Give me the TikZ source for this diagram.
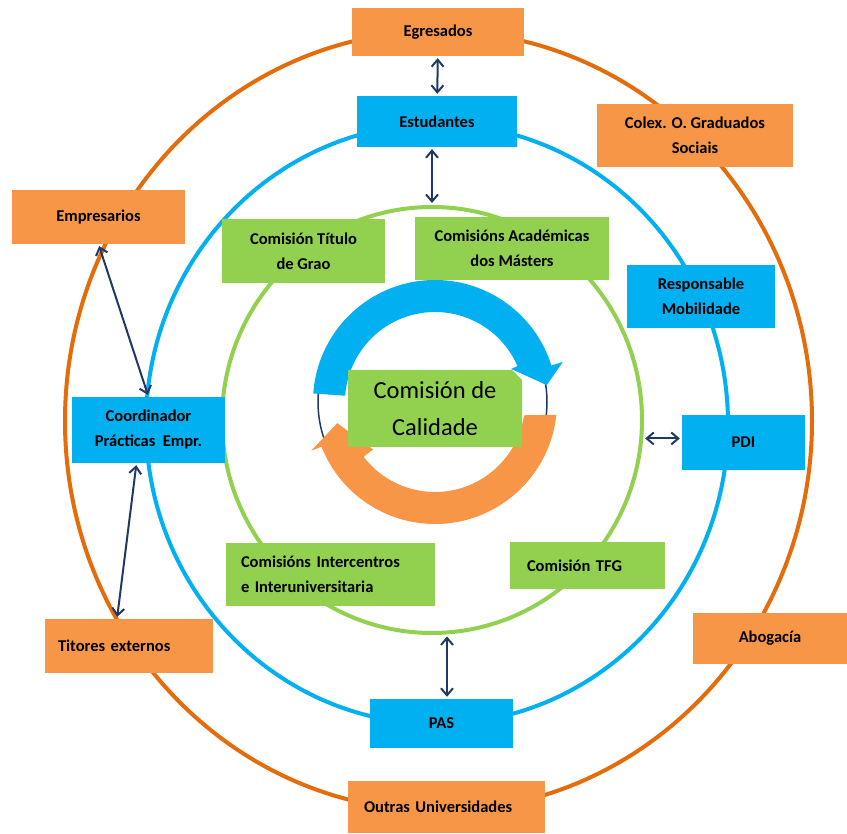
\documentclass[tikz,border=0pt]{standalone}
\usepackage{fontspec}
\setmainfont{Carlito}
\usepackage{xcolor}
\usepackage{tikz}
\usetikzlibrary{arrows.meta}
\usetikzlibrary{shapes,positioning}
\definecolor{boxorange}{HTML}{F79646}
\definecolor{lineorange}{HTML}{E46C0A}
\definecolor{boxblue}{HTML}{00B0F0}
\definecolor{boxgreen}{HTML}{92D050}
\definecolor{linknavy}{HTML}{1F3864}
\tikzset{>={Straight Barb[length=7pt,width=12pt]}}
\tikzset{
  box/.style={inner sep=0pt, align=center, font=\fontsize{16.5}{25}\selectfont\bfseries},
  orangebox/.style={box, fill=boxorange},
  bluebox/.style={box, fill=boxblue},
  greenbox/.style={box, fill=boxgreen},
  ring/.style={ellipse, line width=4pt, inner sep=0pt},
  link/.style={<->, line width=2pt, draw=linknavy, shorten <=2pt, shorten >=2pt}
}

\begin{document}
\begin{tikzpicture}[x=1pt, y=1pt]
            \useasboundingbox (0,0) rectangle (847,834);
            \node[ring, draw=lineorange, minimum width=747pt, minimum height=780pt] (ring-outer) at (438.5,413) {};
            \node[ring, draw=boxblue, minimum width=582pt, minimum height=600pt] (ring-mid) at (437,410) {};
            \node[ring, draw=boxgreen, minimum width=420pt, minimum height=426pt] (ring-inner) at (432,414) {};
            \coordinate (cycle-centre) at (435,432);
            \draw[linknavy, line width=1.5pt] ([xshift=-2.5pt]cycle-centre) circle[radius=114.5];
            \fill[boxblue, shift={(cycle-centre)}] (176:122) arc[start angle=176, end angle=17.4, radius=122] -- (17.4:134) -- (8.6:113) -- (23.5:83) -- (23.5:90) arc[start angle=23.5, end angle=176, radius=90] -- cycle;
            \fill[boxorange, shift={(cycle-centre)}] (-6:122) arc[start angle=-6, end angle=-158.5, radius=122] -- (-158.5:133) -- (-167.8:100) -- (-142.5:78) -- (-142.5:90) arc[start angle=-142.5, end angle=-8.5, radius=90] -- cycle;
            \node[fill=boxgreen, chamfered rectangle, chamfered rectangle corners=north east, chamfered rectangle xsep=5pt, chamfered rectangle ysep=5pt, inner sep=0pt, minimum width=174pt, minimum height=77pt, align=center, font=\fontsize{24.5}{37}\selectfont] (calidade) at (435,425.5) {Comisión de\\Calidade};
            \node[orangebox, minimum width=172pt, minimum height=48pt] (egresados) at (438,802) {Egresados};
            \node[bluebox, minimum width=160pt, minimum height=51pt] (estudantes) at (437,712.5) {Estudantes};
            \node[orangebox, minimum width=196pt, minimum height=63pt] (colex) at (695,698.5) {Colex. O. Graduados\\Sociais};
            \node[orangebox, minimum width=173pt, minimum height=54pt] (empresarios) at (98.5,617) {Empresarios};
            \node[greenbox, minimum width=163pt, minimum height=64pt] (titulo-grao) at (303.5,583) {Comisión Título\\de Grao};
            \node[greenbox, minimum width=194pt, minimum height=63pt] (masters) at (512,585.5) {Comisións Académicas\\dos Másters};
            \node[bluebox, minimum width=148pt, minimum height=63pt] (mobilidade) at (701,537.5) {Responsable\\Mobilidade};
            \node[bluebox, minimum width=123pt, minimum height=55pt] (pdi) at (743.5,391.5) {PDI};
            \node[bluebox, minimum width=153pt, minimum height=66pt] (coordinador) at (148.5,404) {Coordinador\\Prácticas~ Empr.};
            \node[greenbox, minimum height=63pt, inner xsep=15pt, text width=179pt, align=left] (intercentros) at (330.5,259.5) {Comisións Intercentros\\e Interuniversitaria};
            \node[greenbox, minimum height=47pt, inner xsep=17pt, text width=121pt, align=left] (tfg) at (587.5,268.5) {Comisión TFG};
            \node[orangebox, minimum height=54pt, inner xsep=13pt, text width=142pt, align=left] (titores) at (129,188) {Titores externos};
            \node[orangebox, minimum width=154pt, minimum height=51pt] (abogacia) at (770,195.5) {Abogacía};
            \node[bluebox, minimum width=143pt, minimum height=49pt] (pas) at (441.5,110.5) {PAS};
            \node[orangebox, minimum height=52pt, inner xsep=16pt, text width=165pt, align=left] (outras) at (446.5,27) {Outras Universidades};
            \coordinate[left=12pt of coordinador.south] (coordinador-foot);
            \coordinate[left=12pt of titores.north] (titores-top);
            \draw[link] (egresados) -- (estudantes);
            \draw[link] (estudantes.south -| ring-inner.north) -- (ring-inner.north);
            \draw[link] (empresarios.south) -- (coordinador.north);
            \draw[link] (coordinador-foot) -- (titores-top);
            \draw[link] (ring-inner.-5) -- (ring-inner.-5 -| pdi.west);
            \draw[link] (ring-inner.-86.5) -- (ring-inner.-86.5 |- pas.north);
        \end{tikzpicture}
\end{document}
